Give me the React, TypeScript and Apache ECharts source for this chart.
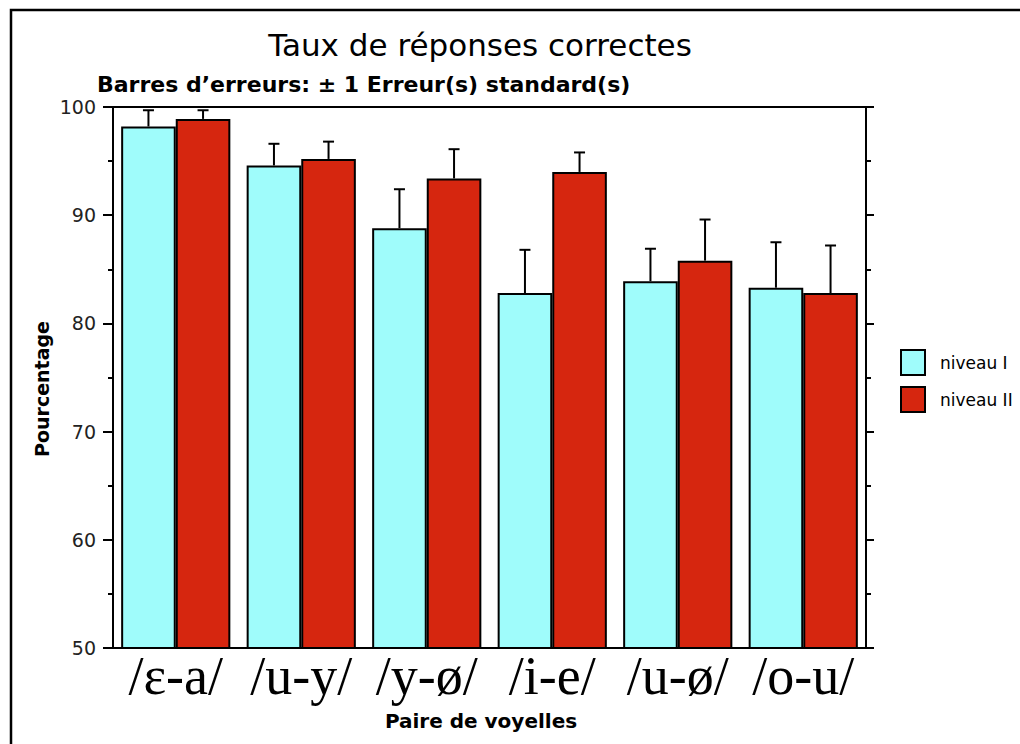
import React, { useEffect, useRef } from "react";
import * as echarts from "echarts";

const categories = ["/ɛ-a/", "/u-y/", "/y-ø/", "/i-e/", "/u-ø/", "/o-u/"];
const niveauI = [98.2, 94.6, 88.8, 82.8, 83.9, 83.3];
const niveauIErr = [1.5, 2.0, 3.6, 4.0, 3.0, 4.2];
const niveauII = [98.9, 95.2, 93.4, 94.0, 85.8, 82.8];
const niveauIIErr = [0.8, 1.6, 2.7, 1.8, 3.8, 4.4];
const seriesNames = ["niveau I", "niveau II"];
const yTicks = { min: 50, max: 100, interval: 10 };

const GAP = 0.13;
const SANS = "'DejaVu Sans', sans-serif";

function errorSeries(values: number[], errs: number[], side: number) {
  return {
    type: "custom",
    z: 5,
    silent: true,
    data: values.map((v, i) => [i, v, errs[i]]),
    renderItem: (params: any, api: any) => {
      const idx = api.value(0);
      const val = api.value(1);
      const err = api.value(2);
      const base = api.coord([idx, val]);
      const top = api.coord([idx, val + err]);
      const band = api.size([1, 0])[0];
      const bw = (band * (1 - GAP)) / 2;
      const x = base[0] + (side ? bw / 2 : -bw / 2);
      const st = { stroke: "#000", lineWidth: 2 };
      return {
        type: "group",
        children: [
          { type: "line", shape: { x1: x, y1: base[1], x2: x, y2: top[1] }, style: st },
          { type: "line", shape: { x1: x - 5.5, y1: top[1], x2: x + 5.5, y2: top[1] }, style: st },
        ],
      };
    },
  };
}

export default function App() {
  const ref = useRef<HTMLDivElement>(null);
  useEffect(() => {
    if (!ref.current) return;
    const chart = echarts.init(ref.current, undefined, { renderer: "svg" });
    chart.setOption({
      animation: false,
      backgroundColor: "#fff",
      grid: { left: 113, right: 154, top: 107, bottom: 96 },
      legend: {
        data: seriesNames.map((n) => ({ name: n, icon: "rect" })),
        orient: "vertical",
        left: 895,
        top: 344,
        itemWidth: 24,
        itemHeight: 25,
        itemGap: 10,
        textStyle: { fontFamily: SANS, fontSize: 17, color: "#000", padding: [0, 0, 0, 10] },
      },
      xAxis: [
        {
          type: "category",
          data: categories,
          axisLine: { lineStyle: { color: "#000", width: 2 } },
          axisTick: { alignWithLabel: true, length: 6, lineStyle: { color: "#000", width: 2 } },
          axisLabel: {
            interval: 0,
            hideOverlap: false,
            fontFamily: "'Liberation Serif', 'DejaVu Serif', serif",
            fontSize: 54,
            color: "#000",
            margin: 1,
          },
        },
        {
          type: "category",
          data: categories,
          position: "top",
          axisLine: { lineStyle: { color: "#000", width: 2 } },
          axisTick: { alignWithLabel: true, length: 6, lineStyle: { color: "#000", width: 2 } },
          axisLabel: { show: false },
        },
      ],
      yAxis: [
        {
          type: "value",
          min: yTicks.min,
          max: yTicks.max,
          interval: yTicks.interval,
          splitLine: { show: false },
          axisLine: { show: true, lineStyle: { color: "#000", width: 2 } },
          axisTick: { show: true, length: 10, lineStyle: { color: "#000", width: 2 } },
          minorTick: { show: true, splitNumber: 2, length: 5, lineStyle: { color: "#000", width: 2 } },
          axisLabel: { fontFamily: SANS, fontSize: 19, color: "#222", margin: 17 },
        },
        {
          type: "value",
          position: "right",
          min: yTicks.min,
          max: yTicks.max,
          interval: yTicks.interval,
          splitLine: { show: false },
          axisLine: { show: true, lineStyle: { color: "#000", width: 2 } },
          axisTick: { show: true, length: 8, lineStyle: { color: "#000", width: 2 } },
          minorTick: { show: true, splitNumber: 2, length: 5, lineStyle: { color: "#000", width: 2 } },
          axisLabel: { show: false },
        },
      ],
      series: [
        {
          name: seriesNames[0],
          type: "bar",
          data: niveauI,
          barGap: "0%",
          barCategoryGap: GAP * 100 + "%",
          itemStyle: { color: "#9ffcfb", borderColor: "#000", borderWidth: 2 },
        },
        {
          name: seriesNames[1],
          type: "bar",
          data: niveauII,
          barGap: "0%",
          barCategoryGap: GAP * 100 + "%",
          itemStyle: { color: "#d6260f", borderColor: "#000", borderWidth: 2 },
        },
        errorSeries(niveauI, niveauIErr, 0),
        errorSeries(niveauII, niveauIIErr, 1),
      ],
      graphic: [
        {
          type: "rect",
          z: -1,
          shape: { x: 11, y: 10, width: 1200, height: 1000 },
          style: { fill: "none", stroke: "#000", lineWidth: 2.5 },
          silent: true,
        },
        {
          type: "text",
          x: 480,
          y: 45,
          style: {
            text: "Taux de réponses correctes",
            font: "31px " + SANS,
            fill: "#000",
            textAlign: "center",
            textVerticalAlign: "middle",
          },
        },
        {
          type: "text",
          x: 97,
          y: 84,
          style: {
            text: "Barres d’erreurs: ± 1 Erreur(s) standard(s)",
            font: "bold 22px " + SANS,
            fill: "#000",
            textAlign: "left",
            textVerticalAlign: "middle",
          },
        },
        {
          type: "text",
          x: 42,
          y: 389,
          rotation: Math.PI / 2,
          style: {
            text: "Pourcentage",
            font: "bold 19px " + SANS,
            fill: "#000",
            textAlign: "center",
            textVerticalAlign: "middle",
          },
        },
        {
          type: "text",
          x: 481,
          y: 721,
          style: {
            text: "Paire de voyelles",
            font: "bold 20px " + SANS,
            fill: "#000",
            textAlign: "center",
            textVerticalAlign: "middle",
          },
        },
      ],
    });
    return () => chart.dispose();
  }, []);
  return (
    <div
      ref={ref}
      style={{ position: "fixed", left: 0, top: 0, width: 1020, height: 744, background: "#fff" }}
    />
  );
}
